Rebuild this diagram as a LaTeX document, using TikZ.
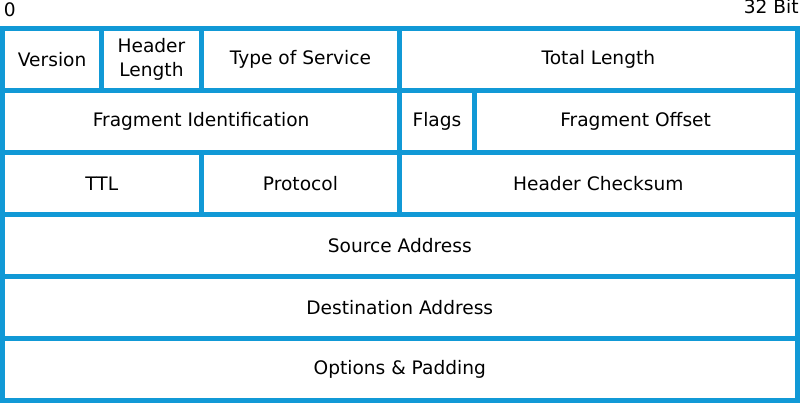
\documentclass[tikz,border=0pt]{standalone}
\usepackage{fontspec}
\setmainfont{DejaVu Sans}
\usepackage{tikz}
\definecolor{ipblue}{RGB}{17,153,214}

\begin{document}
\begin{tikzpicture}
[x=24.828pt,y=-62pt,font=\fontsize{18.6}{23.5}\selectfont,
field/.style={draw=ipblue,line width=5pt,rectangle,inner sep=0pt,align=center,minimum height=62pt},
bitlabel/.style={inner sep=0pt},]
\def\bit{24.828pt}
\useasboundingbox (-2.5pt,28.5pt) rectangle (797.5pt,-374.5pt);
%\draw[red] (0,0) rectangle (32,6);

% row 1
\node (ver) at (2,0.5)[field,minimum width={4*\bit}]{Version};
\node (hlen) at (6,0.5)[field,minimum width={4*\bit}]{Header\\Length};
\node (tos) at (12,0.5)[field,minimum width={8*\bit}]{Type of Service};
\node (tlen) at (24,0.5)[field,minimum width={16*\bit}]{Total Length};
% row 2
\node (fid) at (8,1.5)[field,minimum width={16*\bit}]{Fragment Identification};
\node (flags) at (17.5,1.5)[field,minimum width={3*\bit}]{Flags};
\node (foff) at (25.5,1.5)[field,minimum width={13*\bit}]{Fragment Offset};
% row 3
\node (ttl) at (4,2.5)[field,minimum width={8*\bit}]{TTL};
\node (proto) at (12,2.5)[field,minimum width={8*\bit}]{Protocol};
\node (hcs) at (24,2.5)[field,minimum width={16*\bit}]{Header Checksum};
% rows 4-6
\node (src) at (16,3.5)[field,minimum width={32*\bit}]{Source Address};
\node (dst) at (16,4.5)[field,minimum width={32*\bit}]{Destination Address};
\node (opt) at (16,5.5)[field,minimum width={32*\bit}]{Options \& Padding};

% bit numbers
\node (first) at (1.3pt,11.8pt)[bitlabel,anchor=base west]{0};
\node (last) at (796.3pt,14.5pt)[bitlabel,anchor=base east]{32 Bit};

\end{tikzpicture}
\end{document}
